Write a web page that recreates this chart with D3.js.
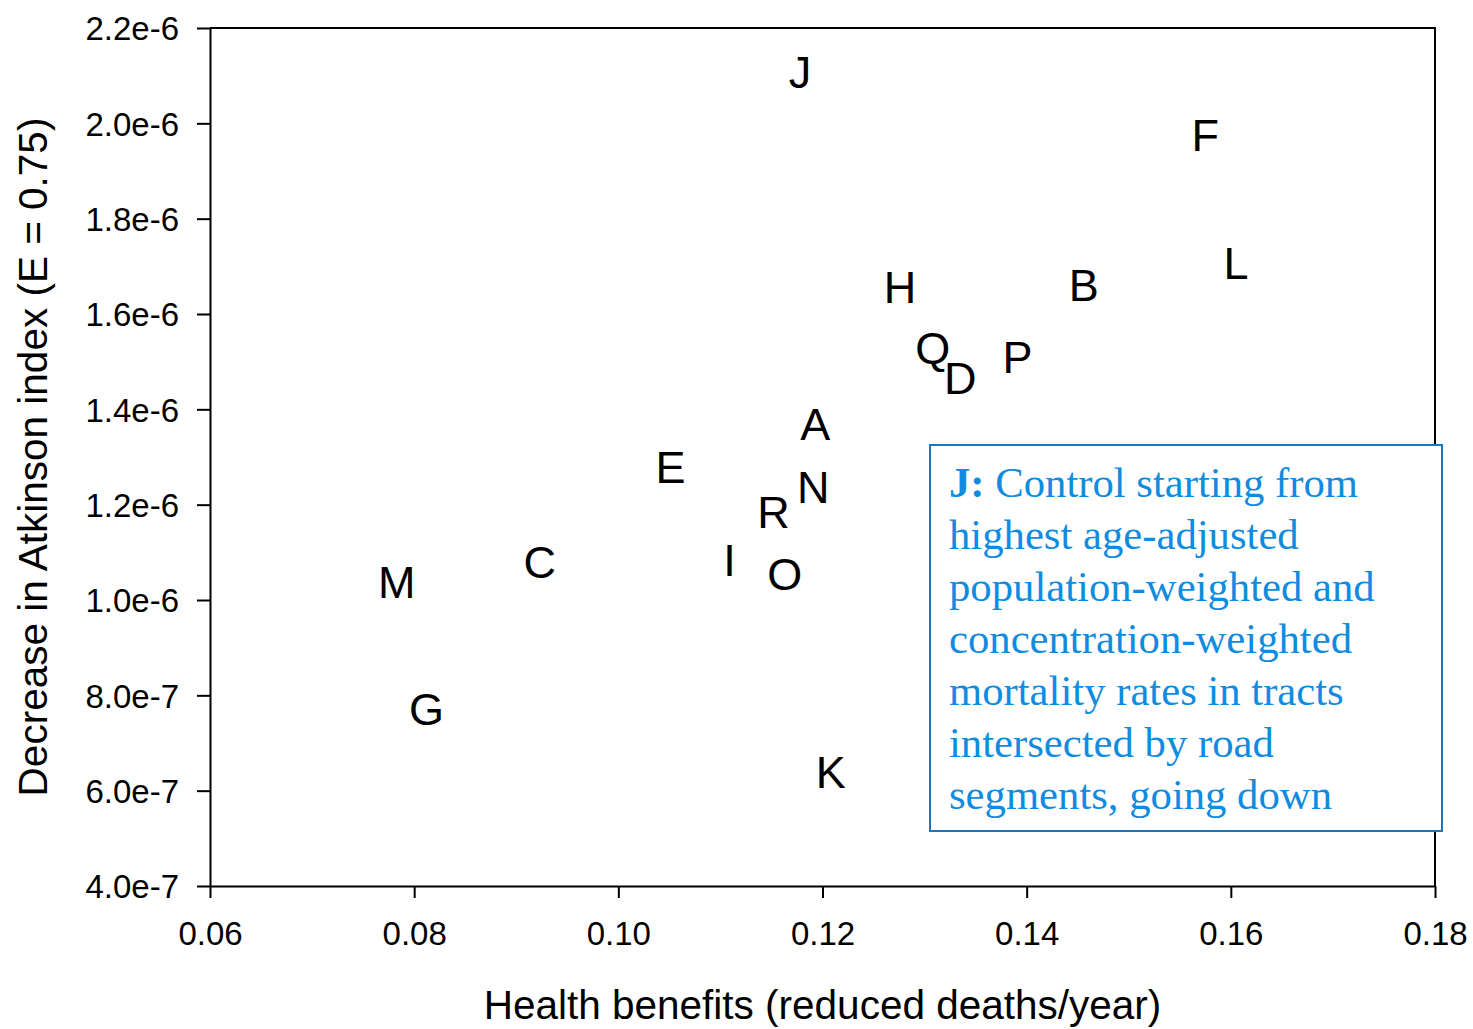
<!DOCTYPE html>
<html>
<head>
<meta charset="utf-8">
<script src="https://cdn.jsdelivr.net/npm/d3@7"></script>
<style>
  body { margin: 0; background: #fff; }
  svg { display: block; }
</style>
</head>
<body>
<div id="chart"></div>
<script>
// scenario labels and their values
const labels = ["J", "F", "L", "H", "B", "Q", "D", "P", "A", "E", "N", "R", "I", "O", "C", "M", "G", "K"];
const benefits = [0.1178, 0.1575, 0.1605, 0.1276, 0.1456, 0.1308, 0.1335, 0.1391, 0.1193, 0.1051, 0.1191, 0.1152, 0.1109, 0.1163, 0.0923, 0.0783, 0.0812, 0.1208];
const atkinson = [2.108e-6, 1.976e-6, 1.707e-6, 1.657e-6, 1.661e-6, 1.529e-6, 1.466e-6, 1.510e-6, 1.369e-6, 1.279e-6, 1.237e-6, 1.185e-6, 1.084e-6, 1.055e-6, 1.080e-6, 1.038e-6, 0.771e-6, 0.639e-6];

const xTicks = [0.06, 0.08, 0.10, 0.12, 0.14, 0.16, 0.18];
const yTicks = [4e-7, 6e-7, 8e-7, 1.0e-6, 1.2e-6, 1.4e-6, 1.6e-6, 1.8e-6, 2.0e-6, 2.2e-6];

const noteLines = [
  "Control starting from",
  "highest age-adjusted",
  "population-weighted and",
  "concentration-weighted",
  "mortality rates in tracts",
  "intersected by road",
  "segments, going down"
];

const W = 1473, H = 1029;
const margin = {top: 28, right: 38, bottom: 143, left: 210};
const width = W - margin.left - margin.right;
const height = H - margin.top - margin.bottom;

const svg = d3.select("#chart").append("svg")
  .attr("width", W)
  .attr("height", H);

const g = svg.append("g")
  .attr("transform", `translate(${margin.left},${margin.top})`);

const x = d3.scaleLinear().domain([0.06, 0.18]).range([0, width]);
const y = d3.scaleLinear().domain([4e-7, 2.2e-6]).range([height, 0]);

// frame (top and right)
g.append("path")
  .attr("d", `M0,0H${width}V${height}`)
  .attr("fill", "none")
  .attr("stroke", "#000")
  .attr("stroke-width", 2);

const xAxis = g.append("g")
  .attr("transform", `translate(0,${height})`)
  .call(d3.axisBottom(x).tickValues(xTicks).tickFormat(d3.format(".2f")).tickSize(12).tickPadding(24).tickSizeOuter(0));

const yAxis = g.append("g")
  .call(d3.axisLeft(y).tickValues(yTicks).tickFormat(d3.format(".1e")).tickSize(13).tickPadding(18).tickSizeOuter(0));

[xAxis, yAxis].forEach(a => {
  a.selectAll("path, line").attr("stroke", "#000").attr("stroke-width", 2);
  a.selectAll("text")
    .attr("fill", "#000")
    .style("font-family", "Arial, 'Liberation Sans', sans-serif")
    .style("font-size", "33px");
});
yAxis.selectAll("text").attr("dy", "0.36em");

// letter markers
g.selectAll(".pt")
  .data(labels)
  .enter()
  .append("text")
    .attr("class", "pt")
    .attr("x", (d, i) => x(benefits[i]))
    .attr("y", (d, i) => y(atkinson[i]))
    .attr("dy", "0.36em")
    .attr("text-anchor", "middle")
    .style("font-family", "Arial, 'Liberation Sans', sans-serif")
    .style("font-size", "45px")
    .text(d => d);

// axis titles
svg.append("text")
  .attr("x", margin.left + width / 2)
  .attr("y", 1019)
  .attr("text-anchor", "middle")
  .style("font-family", "Arial, 'Liberation Sans', sans-serif")
  .style("font-size", "40.5px")
  .text("Health benefits (reduced deaths/year)");

svg.append("text")
  .attr("transform", `translate(47,${margin.top + height / 2}) rotate(-90)`)
  .attr("text-anchor", "middle")
  .style("font-family", "Arial, 'Liberation Sans', sans-serif")
  .style("font-size", "40.5px")
  .text("Decrease in Atkinson index (E = 0.75)");

// annotation box
const note = svg.append("g").attr("transform", "translate(930,445)");
note.append("rect")
  .attr("width", 512)
  .attr("height", 386)
  .attr("fill", "#fff")
  .attr("stroke", "#1a78c2")
  .attr("stroke-width", 2);

const noteText = note.append("text")
  .style("font-family", "'Liberation Serif', 'Times New Roman', serif")
  .style("font-size", "42.7px")
  .attr("fill", "#0f8ce0");

noteLines.forEach((line, i) => {
  const t = noteText.append("tspan")
    .attr("x", 19)
    .attr("y", 52 + i * 52);
  if (i === 0) {
    t.append("tspan").style("font-weight", "bold").text("J: ");
    t.append("tspan").text(line);
  } else {
    t.text(line);
  }
});
</script>
</body>
</html>
